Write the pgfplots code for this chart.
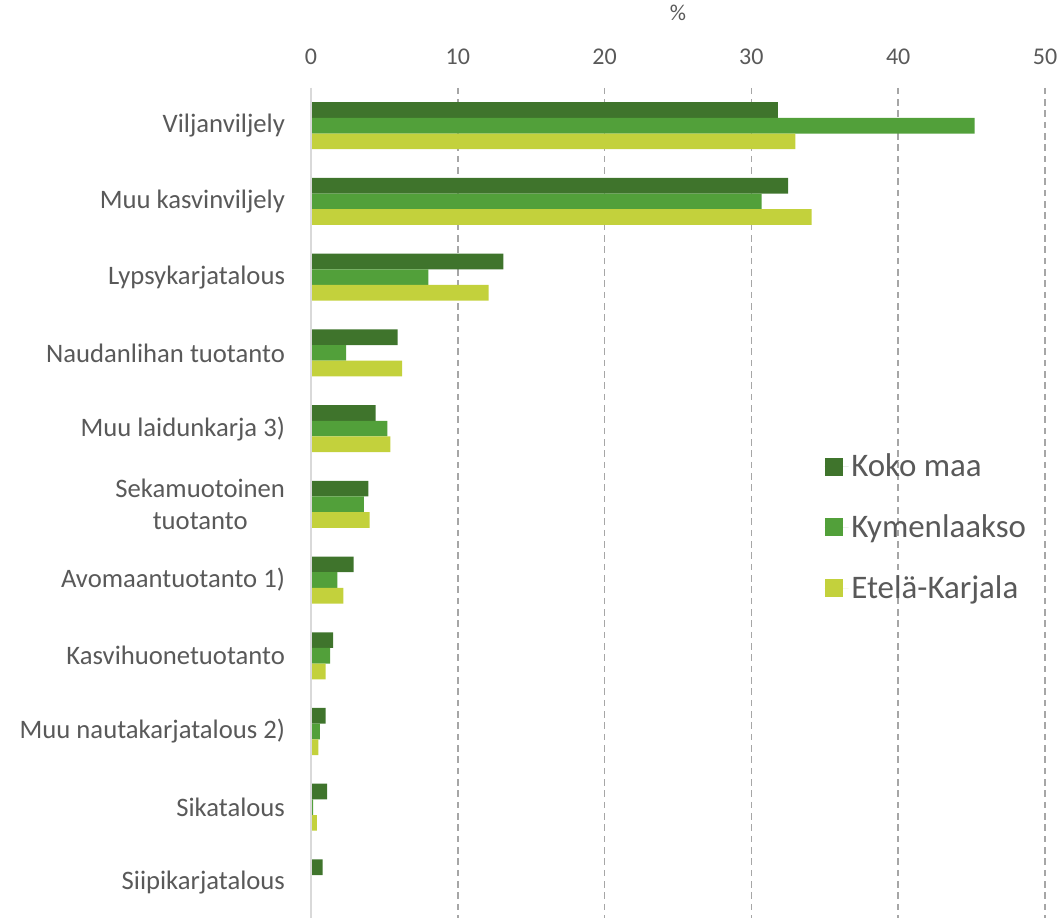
\documentclass[border=0pt]{standalone}
\usepackage{pgfplots}
\pgfplotsset{compat=1.18}
\usepackage{fontspec}
\setmainfont{Carlito}
\definecolor{txt}{HTML}{595959}
\definecolor{cA}{HTML}{3F742C}
\definecolor{cB}{HTML}{52A03A}
\definecolor{cC}{HTML}{C3D13C}
\definecolor{gridc}{HTML}{A6A6A6}
\definecolor{axc}{HTML}{D9D9D9}
\begin{document}
\begin{tikzpicture}
\begin{axis}[
  at={(233.25pt,-65.85pt)}, anchor=north west,
  scale only axis, width=550.5pt, height=624.75pt,
  xbar=0pt, bar width=0.207,
  xmin=0, xmax=50, ymin=-0.5, ymax=10.5,
  y dir=reverse,
  axis line style={draw=none},
  xtick={0,10,...,50}, xticklabel pos=upper,
  /pgf/number format/assume math mode=true,
  xticklabel style={font=\fontsize{18}{21}\selectfont, text=txt, yshift=14pt},
  major tick length=0pt,
  ytick={0,...,10},
  yticklabels={Viljanviljely,Muu kasvinviljely,Lypsykarjatalous,Naudanlihan tuotanto,Muu laidunkarja 3),{Sekamuotoinen\\tuotanto},Avomaantuotanto 1),Kasvihuonetuotanto,Muu nautakarjatalous 2),Sikatalous,Siipikarjatalous},
  yticklabel style={font=\fontsize{20}{24}\selectfont, text=txt, align=center, xshift=-16pt},
  xmajorgrids, major grid style={gridc, dashed, line width=1.3pt, dash pattern=on 5pt off 3.5pt},
  title={\%}, title style={font=\fontsize{17}{20}\selectfont, text=txt, at={(0.5,1)}, anchor=center, yshift=50.5pt, inner sep=0pt},
  legend style={at={(0.694,0.567)}, anchor=north west, draw=none, fill=none,
    font=\fontsize{24.7}{29}\selectfont, text=txt, row sep=23pt,
    legend cell align=left},
  legend image code/.code={\fill[#1] (0pt,-6.75pt) rectangle (13.5pt,6.75pt); \path (0pt,0pt) -- (18pt,0pt);},
  clip=false,
]
\addplot[draw=none, fill=cA] coordinates {(31.8,0) (32.5,1) (13.1,2) (5.9,3) (4.4,4) (3.9,5) (2.9,6) (1.5,7) (1.0,8) (1.1,9) (0.8,10)};
\addplot[draw=none, fill=cB] coordinates {(45.2,0) (30.7,1) (8.0,2) (2.4,3) (5.2,4) (3.6,5) (1.8,6) (1.3,7) (0.6,8) (0.15,9) (0.05,10)};
\addplot[draw=none, fill=cC] coordinates {(33.0,0) (34.1,1) (12.1,2) (6.2,3) (5.4,4) (4.0,5) (2.2,6) (1.0,7) (0.5,8) (0.4,9) (0.05,10)};
\legend{Koko maa,Kymenlaakso,Etelä-Karjala}
\draw[axc, line width=1.5pt] (axis cs:0,-0.5) -- (axis cs:0,10.5);
\end{axis}
\pgfresetboundingbox
\path (0pt,0pt) rectangle (795.75pt,-688.5pt);
\end{tikzpicture}
\end{document}
